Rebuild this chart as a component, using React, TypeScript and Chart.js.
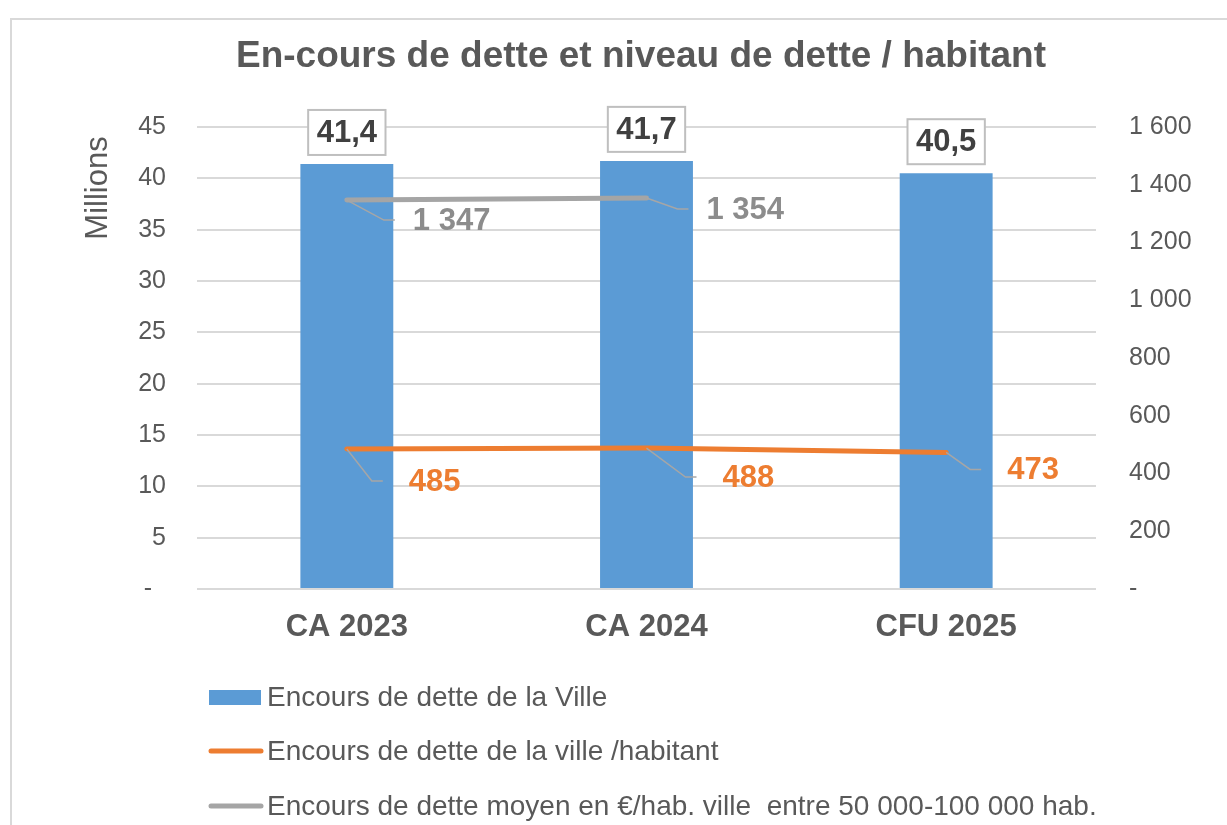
import React, { useEffect, useRef } from 'react';
import { Chart, registerables } from 'chart.js';

Chart.register(...registerables);

const FONT = "'Liberation Sans', Arial, sans-serif";

const chartTitle = 'En-cours de dette et niveau de dette / habitant';
const leftAxisTitle = 'Millions';
const categories = ['CA 2023', 'CA 2024', 'CFU 2025'];
const detteVille = [41.4, 41.7, 40.5];
const detteParHabitant = [485, 488, 473];
const detteMoyenneStrate: (number | null)[] = [1347, 1354, null];
const seriesNames = [
  'Encours de dette de la Ville',
  'Encours de dette de la ville /habitant',
  'Encours de dette moyen en €/hab. ville  entre 50 000-100 000 hab.',
];
const leftTickMax = 45;
const leftTickStep = 5;
const rightTickMax = 1600;
const rightTickStep = 200;

// label placement (style only): [dx to label start, dy to label centre]
const habitantLabelOffsets = [[62, 32], [76, 29], [61, 17]];
const strateLabelOffsets = [[66, 20], [60, 11]];

const COLORS = {
  bar: '#5B9BD5',
  orange: '#ED7D31',
  grey: '#A5A5A5',
  greyLabel: '#8C8C8C',
  text: '#595959',
  dark: '#404040',
  grid: '#D9D9D9',
  leader: '#A6A6A6',
};

const fmtFr = (n: number) => String(n).replace(/\B(?=(\d{3})+(?!\d))/g, ' ');
const fmtDec = (n: number) => n.toFixed(1).replace('.', ',');

const decorPlugin = {
  id: 'decor',
  beforeDraw(chart: any) {
    const ctx = chart.ctx;
    ctx.save();
    ctx.strokeStyle = COLORS.grid;
    ctx.lineWidth = 2;
    ctx.strokeRect(11, 19, 1400, 1000);
    ctx.restore();
  },
  afterDatasetsDraw(chart: any) {
    const ctx = chart.ctx;
    ctx.save();
    // bar value boxes
    const barMeta = chart.getDatasetMeta(2);
    ctx.font = `bold 31px ${FONT}`;
    barMeta.data.forEach((el: any, i: number) => {
      const txt = fmtDec(detteVille[i]);
      const w = ctx.measureText(txt).width + 17;
      const h = 45;
      const bottom = el.y - 9;
      const x0 = el.x - w / 2;
      ctx.fillStyle = '#FFFFFF';
      ctx.fillRect(x0, bottom - h, w, h);
      ctx.strokeStyle = '#BFBFBF';
      ctx.lineWidth = 2;
      ctx.strokeRect(x0, bottom - h, w, h);
      ctx.fillStyle = COLORS.dark;
      ctx.textAlign = 'center';
      ctx.textBaseline = 'middle';
      ctx.fillText(txt, el.x, bottom - h / 2 + 1);
    });

    const drawLineLabels = (dsIndex: number, values: (number | null)[], offsets: number[][], color: string, gap: number) => {
      const meta = chart.getDatasetMeta(dsIndex);
      meta.data.forEach((el: any, i: number) => {
        const v = values[i];
        if (v === null || v === undefined || !offsets[i]) return;
        const [dx, dy] = offsets[i];
        const lx = el.x + dx;
        const ly = el.y + dy;
        const endX = lx - gap;
        const elbowX = endX - 11;
        ctx.strokeStyle = COLORS.leader;
        ctx.lineWidth = 1.5;
        ctx.beginPath();
        ctx.moveTo(el.x, el.y);
        ctx.lineTo(elbowX, ly);
        ctx.lineTo(endX, ly);
        ctx.stroke();
        ctx.font = `bold 31px ${FONT}`;
        ctx.fillStyle = color;
        ctx.textAlign = 'left';
        ctx.textBaseline = 'middle';
        ctx.fillText(fmtFr(v), lx, ly + 1);
      });
    };
    drawLineLabels(0, detteParHabitant, habitantLabelOffsets, COLORS.orange, 26);
    drawLineLabels(1, detteMoyenneStrate, strateLabelOffsets, COLORS.greyLabel, 18);
    ctx.restore();
  },
  afterDraw(chart: any) {
    const ctx = chart.ctx;
    ctx.save();
    // title
    ctx.fillStyle = COLORS.text;
    ctx.font = `bold 37px ${FONT}`;
    ctx.textAlign = 'center';
    ctx.textBaseline = 'alphabetic';
    ctx.fillText(chartTitle, 641, 67);
    // axis title
    ctx.save();
    ctx.translate(107, 188);
    ctx.rotate(-Math.PI / 2);
    ctx.font = `31px ${FONT}`;
    ctx.textAlign = 'center';
    ctx.textBaseline = 'alphabetic';
    ctx.fillText(leftAxisTitle, 0, 0);
    ctx.restore();
    // legend
    const lx = 209;
    const lw = 52;
    const rows = [697, 751, 806];
    ctx.fillStyle = COLORS.bar;
    ctx.fillRect(lx, rows[0] - 7, lw, 15);
    ctx.lineCap = 'round';
    ctx.lineWidth = 5;
    ctx.strokeStyle = COLORS.orange;
    ctx.beginPath();
    ctx.moveTo(lx + 2, rows[1]);
    ctx.lineTo(lx + lw, rows[1]);
    ctx.stroke();
    ctx.strokeStyle = COLORS.grey;
    ctx.beginPath();
    ctx.moveTo(lx + 2, rows[2]);
    ctx.lineTo(lx + lw, rows[2]);
    ctx.stroke();
    ctx.fillStyle = COLORS.text;
    ctx.font = `28px ${FONT}`;
    ctx.textAlign = 'left';
    ctx.textBaseline = 'middle';
    seriesNames.forEach((name, i) => {
      ctx.fillText(name, 267, rows[i] + 1);
    });
    ctx.restore();
  },
};

export default function App() {
  const ref = useRef<HTMLCanvasElement>(null);
  useEffect(() => {
    if (!ref.current) return;
    Chart.defaults.font.family = FONT;
    const chart = new Chart(ref.current, {
      type: 'bar',
      data: {
        labels: categories,
        datasets: [
          {
            type: 'line',
            label: seriesNames[1],
            data: detteParHabitant,
            yAxisID: 'y1',
            borderColor: COLORS.orange,
            backgroundColor: COLORS.orange,
            borderWidth: 5,
            pointRadius: 0,
            borderCapStyle: 'round',
            tension: 0,
            order: 0,
          } as any,
          {
            type: 'line',
            label: seriesNames[2],
            data: detteMoyenneStrate,
            yAxisID: 'y1',
            borderColor: COLORS.grey,
            backgroundColor: COLORS.grey,
            borderWidth: 5,
            pointRadius: 0,
            borderCapStyle: 'round',
            tension: 0,
            order: 1,
          } as any,
          {
            type: 'bar',
            label: seriesNames[0],
            data: detteVille,
            yAxisID: 'y',
            backgroundColor: COLORS.bar,
            barPercentage: 0.31,
            categoryPercentage: 1,
            order: 2,
          } as any,
        ],
      },
      options: {
        responsive: false,
        animation: false,
        devicePixelRatio: 1,
        layout: { padding: { top: 127, left: 0, right: 0, bottom: 166 } },
        plugins: {
          legend: { display: false },
          title: { display: false },
          tooltip: { enabled: false },
        },
        scales: {
          x: {
            grid: { display: false, drawTicks: false },
            border: { display: false },
            ticks: {
              color: COLORS.text,
              font: { family: FONT, size: 31, weight: 'bold' },
              padding: 20,
            },
            afterFit: (s: any) => {
              s.height = 70;
            },
          },
          y: {
            position: 'left',
            min: 0,
            max: leftTickMax,
            ticks: {
              stepSize: leftTickStep,
              color: COLORS.text,
              font: { family: FONT, size: 25 },
              padding: 31,
              callback: (v: any) => (v === 0 ? '-  ' : String(v)),
            },
            grid: { color: COLORS.grid, lineWidth: 2, drawTicks: false },
            border: { display: false },
            afterFit: (s: any) => {
              s.width = 197;
            },
          },
          y1: {
            position: 'right',
            min: 0,
            max: rightTickMax,
            ticks: {
              stepSize: rightTickStep,
              color: COLORS.text,
              font: { family: FONT, size: 25 },
              padding: 33,
              callback: (v: any) => (v === 0 ? '-' : fmtFr(Number(v))),
            },
            grid: { display: false, drawTicks: false },
            border: { display: false },
            afterFit: (s: any) => {
              s.width = 131;
            },
          },
        },
      } as any,
      plugins: [decorPlugin],
    });
    return () => chart.destroy();
  }, []);
  return (
    <div style={{ position: 'absolute', left: 0, top: 0, width: 1227, height: 825, background: '#fff' }}>
      <canvas ref={ref} width={1227} height={825} style={{ display: 'block', width: 1227, height: 825 }} />
    </div>
  );
}
